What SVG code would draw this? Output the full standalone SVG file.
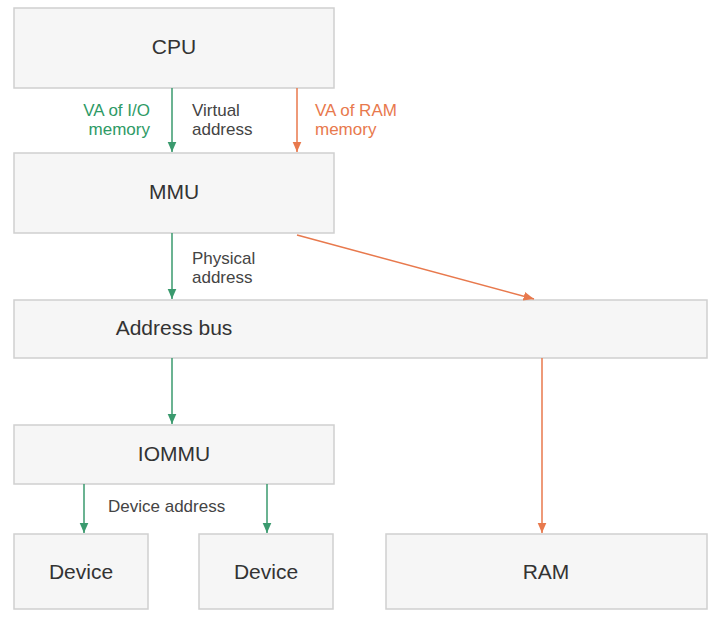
<svg xmlns="http://www.w3.org/2000/svg" width="720" height="624" viewBox="0 0 720 624">
<style>
.b{fill:#f6f6f6;stroke:#cfcfcf;stroke-width:1.5}
.t{font-family:"Liberation Sans",Arial,sans-serif;font-size:21px;fill:#333;text-anchor:middle}
.s{font-family:"Liberation Sans",Arial,sans-serif;font-size:17px;fill:#444}
.g{stroke:#3a9a6e;stroke-width:1.5;fill:none}
.o{stroke:#e8794d;stroke-width:1.5;fill:none}
</style>
<defs>
<marker id="ag" markerWidth="8" markerHeight="8" refX="7" refY="4" orient="auto"><path d="M0,1 L7,4 L0,7z" fill="#3a9a6e"/></marker>
<marker id="ao" markerWidth="8" markerHeight="8" refX="7" refY="4" orient="auto"><path d="M0,1 L7,4 L0,7z" fill="#e8794d"/></marker>
</defs>
<rect width="720" height="624" fill="#fff"/>
<g id="cpu"><rect class="b" x="14" y="8" width="320" height="80"/><text class="t" x="174" y="54">CPU</text></g>
<g id="mmu"><rect class="b" x="14" y="153" width="320" height="80"/><text class="t" x="174" y="199">MMU</text></g>
<g id="bus"><rect class="b" x="14" y="300" width="693" height="58"/><text class="t" x="174" y="335">Address bus</text></g>
<g id="iommu"><rect class="b" x="14" y="425" width="320" height="59"/><text class="t" x="174" y="461">IOMMU</text></g>
<g id="dev1"><rect class="b" x="14" y="534" width="134" height="75"/><text class="t" x="81" y="579">Device</text></g>
<g id="dev2"><rect class="b" x="199" y="534" width="134" height="75"/><text class="t" x="266" y="579">Device</text></g>
<g id="ram"><rect class="b" x="386" y="534" width="321" height="75"/><text class="t" x="546" y="579">RAM</text></g>
<g id="connectors">
<line class="g" x1="172" y1="88" x2="172" y2="152" marker-end="url(#ag)"/>
<line class="o" x1="297" y1="88" x2="297" y2="152" marker-end="url(#ao)"/>
<line class="g" x1="172" y1="233" x2="172" y2="299" marker-end="url(#ag)"/>
<line class="o" x1="297" y1="235" x2="534" y2="299" marker-end="url(#ao)"/>
<line class="g" x1="172" y1="358" x2="172" y2="424" marker-end="url(#ag)"/>
<line class="o" x1="542" y1="358" x2="542" y2="533" marker-end="url(#ao)"/>
<line class="g" x1="84" y1="484" x2="84" y2="533" marker-end="url(#ag)"/>
<line class="g" x1="267" y1="484" x2="267" y2="533" marker-end="url(#ag)"/>
</g>
<g id="labels">
<text class="s" x="150" y="116" text-anchor="end" style="fill:#2e9a66">VA of I/O</text>
<text class="s" x="150" y="135" text-anchor="end" style="fill:#2e9a66">memory</text>
<text class="s" x="192" y="116">Virtual</text>
<text class="s" x="192" y="135">address</text>
<text class="s" x="315" y="116" style="fill:#e8794d">VA of RAM</text>
<text class="s" x="315" y="135" style="fill:#e8794d">memory</text>
<text class="s" x="192" y="264">Physical</text>
<text class="s" x="192" y="283">address</text>
<text class="s" x="108" y="512">Device address</text>
</g>
</svg>
